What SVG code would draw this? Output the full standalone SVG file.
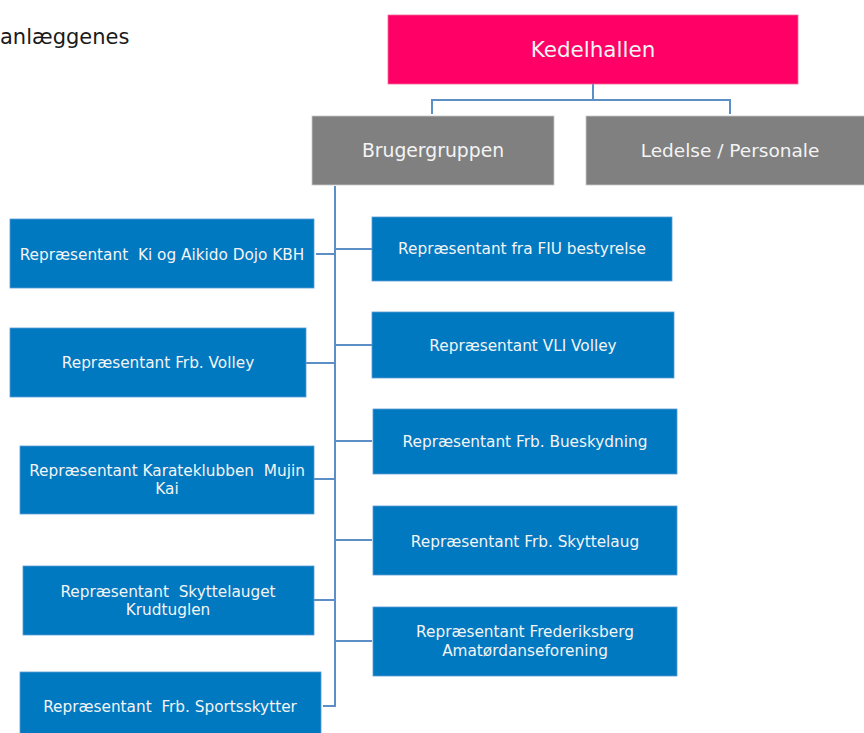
<svg xmlns="http://www.w3.org/2000/svg" width="864" height="733" viewBox="0 0 864 733">
<style>
text{font-family:"DejaVu Sans","Liberation Sans",sans-serif;text-anchor:middle;fill:#F4F4F4;white-space:pre}
.b{fill:#0079C1;stroke:#5B9BD5;stroke-width:0.8}
.g{fill:#808080;stroke:#C8C8C8;stroke-width:0.8}
.t{font-size:15.3px}
.c{fill:none;stroke:#5B8FC6;stroke-width:2}
</style>
<rect width="864" height="733" fill="#fff"/>
<text x="0" y="44" style="text-anchor:start;fill:#1a1a1a;font-size:21px">anlæggenes</text>
<g id="connectors">
<path class="c" d="M593,84V100M432,114V100H730V114"/>
<path class="c" d="M335,186V706H323M316,254H335M306,363H335M314,479H335M314,600H335M335,249H372M335,345H372M335,441H372M335,540H372M335,641H372"/>
</g>
<g id="kedelhallen"><rect x="388" y="15" width="410" height="69" fill="#FF0066" stroke="#F06A9A" stroke-width="0.8"/><text x="593" y="57" style="font-size:21.5px">Kedelhallen</text></g>
<g id="brugergruppen"><rect class="g" x="312" y="116" width="242" height="69"/><text x="433" y="157" style="font-size:18.8px">Brugergruppen</text></g>
<g id="ledelse"><rect class="g" x="586" y="116" width="290" height="69"/><text x="730" y="157" style="font-size:18.5px">Ledelse / Personale</text></g>
<g id="ki"><rect class="b" x="10" y="219" width="304" height="69"/><text class="t" x="162" y="260">Repræsentant  Ki og Aikido Dojo KBH</text></g>
<g id="frbvolley"><rect class="b" x="10" y="328" width="296" height="69"/><text class="t" x="158" y="368">Repræsentant Frb. Volley</text></g>
<g id="karate"><rect class="b" x="20" y="446" width="294" height="68"/><text class="t" x="167" y="476">Repræsentant Karateklubben  Mujin</text><text class="t" x="167" y="494">Kai</text></g>
<g id="krudtuglen"><rect class="b" x="23" y="566" width="291" height="69"/><text class="t" x="168" y="597">Repræsentant  Skyttelauget</text><text class="t" x="168" y="615">Krudtuglen</text></g>
<g id="sportsskytter"><rect class="b" x="20" y="672" width="301" height="65"/><text class="t" x="170" y="712">Repræsentant  Frb. Sportsskytter</text></g>
<g id="fiu"><rect class="b" x="372" y="217" width="300" height="64"/><text class="t" x="522" y="254">Repræsentant fra FIU bestyrelse</text></g>
<g id="vli"><rect class="b" x="372" y="312" width="302" height="66"/><text class="t" x="523" y="351">Repræsentant VLI Volley</text></g>
<g id="bueskydning"><rect class="b" x="373" y="409" width="304" height="65"/><text class="t" x="525" y="447">Repræsentant Frb. Bueskydning</text></g>
<g id="skyttelaug"><rect class="b" x="373" y="506" width="304" height="69"/><text class="t" x="525" y="547">Repræsentant Frb. Skyttelaug</text></g>
<g id="danse"><rect class="b" x="373" y="607" width="304" height="69"/><text class="t" x="525" y="637">Repræsentant Frederiksberg</text><text class="t" x="525" y="656">Amatørdanseforening</text></g>
</svg>
